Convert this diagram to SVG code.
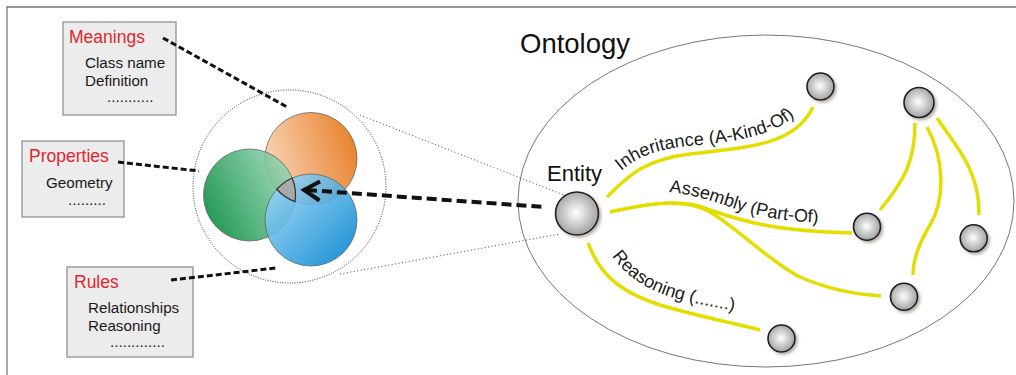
<svg xmlns="http://www.w3.org/2000/svg" width="1016" height="375" viewBox="0 0 1016 375">
<style>
.box{fill:#ececec;stroke:#8a8a8a;stroke-width:1.2}
.hd{font-family:"Liberation Sans",Arial,sans-serif;font-size:17.5px;fill:#e3262b}
.tx{font-family:"Liberation Sans",Arial,sans-serif;font-size:15.2px;fill:#1a1a1a}
.lbl{font-family:"Liberation Sans",Arial,sans-serif;font-size:18px;fill:#1a1a1a}
.dash{fill:none;stroke:#111;stroke-width:3;stroke-dasharray:6 3}
.dot{fill:none;stroke:#444;stroke-width:1;stroke-dasharray:1 2.5}
.yl{fill:none;stroke:#e4de00;stroke-width:3.5;stroke-linecap:butt}
.nd{fill:url(#gNode);stroke:#1e1e1e;stroke-width:1.6;filter:url(#sh)}
.vc{stroke:#555;stroke-width:0.8;opacity:0.88}
</style>
<defs>
<radialGradient id="gNode" cx="0.48" cy="0.48" r="0.55">
<stop offset="0" stop-color="#ffffff"/>
<stop offset="1" stop-color="#9c9c9c"/>
</radialGradient>
<linearGradient id="gOr" x1="0" y1="0.6" x2="1" y2="0.3">
<stop offset="0" stop-color="#f8d0ae"/>
<stop offset="1" stop-color="#e6700f"/>
</linearGradient>
<linearGradient id="gGr" x1="0" y1="0.75" x2="1" y2="0.25">
<stop offset="0" stop-color="#008a3a"/>
<stop offset="1" stop-color="#9cd8b8"/>
</linearGradient>
<linearGradient id="gBl" x1="0.1" y1="0.1" x2="0.9" y2="0.9">
<stop offset="0" stop-color="#9ad4f6"/>
<stop offset="1" stop-color="#0386d2"/>
</linearGradient>
<filter id="sh" x="-30%" y="-30%" width="170%" height="170%">
<feDropShadow dx="2" dy="2" stdDeviation="1.5" flood-color="#8a7a70" flood-opacity="0.6"/>
</filter>
<path id="tpInh" d="M621,171 C640,155 660,148 700,145 C750,140 785,132 806,104"/>
<path id="tpAsm" d="M669,192 C700,195 722,205 746,212 C772,219 795,222 826,223"/>
<path id="tpRea" d="M612,256 C626,276 646,291 682,300 C702,305 722,309 744,312"/>
</defs>

<g id="frame">
<path d="M7,375 L7,7 L1016,7" fill="none" stroke="#777" stroke-width="1.3"/>
</g>

<g id="ontology">
<ellipse cx="766" cy="201" rx="248" ry="166" fill="none" stroke="#777" stroke-width="1"/>
<text x="520" y="53" font-family="'Liberation Sans',Arial,sans-serif" font-size="27.5" fill="#111">Ontology</text>
</g>

<g id="box-meanings">
<rect class="box" x="63" y="22" width="113" height="93"/>
<text class="hd" x="69" y="43">Meanings</text>
<text class="tx" x="85" y="68">Class name</text>
<text class="tx" x="85" y="86">Definition</text>
<text class="tx" x="107" y="102">...........</text>
</g>

<g id="box-properties">
<rect class="box" x="22" y="141" width="102" height="76"/>
<text class="hd" x="29" y="162">Properties</text>
<text class="tx" x="46" y="188">Geometry</text>
<text class="tx" x="68" y="205">.........</text>
</g>

<g id="box-rules">
<rect class="box" x="67" y="267" width="126" height="90"/>
<text class="hd" x="74" y="288">Rules</text>
<text class="tx" x="88" y="313">Relationships</text>
<text class="tx" x="88" y="331">Reasoning</text>
<text class="tx" x="110" y="347">.............</text>
</g>

<g id="venn">
<circle cx="289.5" cy="186.5" r="96.5" fill="none" stroke="#333" stroke-width="1" stroke-dasharray="1 1.5"/>
<circle class="vc" cx="311" cy="158.5" r="46" fill="url(#gOr)"/>
<circle class="vc" cx="249.5" cy="195" r="46" fill="url(#gGr)"/>
<circle class="vc" cx="311" cy="220" r="46" fill="url(#gBl)"/>
<path d="M276.8,189.25 A46,46 0 0,1 292.25,178 A46,46 0 0,1 295.03,201.65 A46,46 0 0,1 276.8,189.25 Z" fill="#a9a9a9" stroke="#333" stroke-width="1.2"/>
</g>

<g id="connectors">
<path class="dash" d="M163,38 L287,107"/>
<path class="dash" d="M118,162 L199,171"/>
<path class="dash" d="M171,280 L276,268"/>
<path class="dot" d="M360,115 L564,195"/>
<path class="dot" d="M340,274 L560,234"/>
<path d="M307,190 L544,207" fill="none" stroke="#111" stroke-width="4" stroke-dasharray="10 5"/>
<path d="M320,181.5 L304,190 L319.5,200.5" fill="none" stroke="#111" stroke-width="4" stroke-linejoin="miter"/>
<path class="yl" d="M607,197 C625,180 640,160 690,154 C750,147 795,145 813,107"/>
<path class="yl" d="M610,212 C650,203 685,198 710,210 C745,222 775,231 852,233"/>
<path class="yl" d="M610,212 C650,203 685,198 710,212 C740,230 770,262 800,277 C830,290 855,294 881,296"/>
<path class="yl" d="M588,243 C600,275 620,292 660,305 C700,317 730,322 760,330"/>
<path class="yl" d="M915,123 C915,160 905,180 880,210"/>
<path class="yl" d="M927,127 C945,160 945,200 930,225 C918,245 913,260 913,275"/>
<path class="yl" d="M937,118 C955,145 980,170 979,215"/>
<text class="lbl"><textPath href="#tpInh">Inheritance (A-Kind-Of)</textPath></text>
<text class="lbl"><textPath href="#tpAsm">Assembly (Part-Of)</textPath></text>
<text class="lbl"><textPath href="#tpRea">Reasoning (.......)</textPath></text>
</g>

<g id="entity">
<circle class="nd" cx="577" cy="213.5" r="21.5"/>
<text x="547" y="181" font-family="'Liberation Sans',Arial,sans-serif" font-size="22" fill="#111">Entity</text>
</g>
<g id="node1"><circle class="nd" cx="820.5" cy="86.5" r="13.5"/></g>
<g id="node2"><circle class="nd" cx="919" cy="102.5" r="15"/></g>
<g id="node3"><circle class="nd" cx="867" cy="226.7" r="13.5"/></g>
<g id="node4"><circle class="nd" cx="973.7" cy="238.3" r="13.5"/></g>
<g id="node5"><circle class="nd" cx="904" cy="296.7" r="13.5"/></g>
<g id="node6"><circle class="nd" cx="781.5" cy="338.5" r="13.5"/></g>
</svg>
